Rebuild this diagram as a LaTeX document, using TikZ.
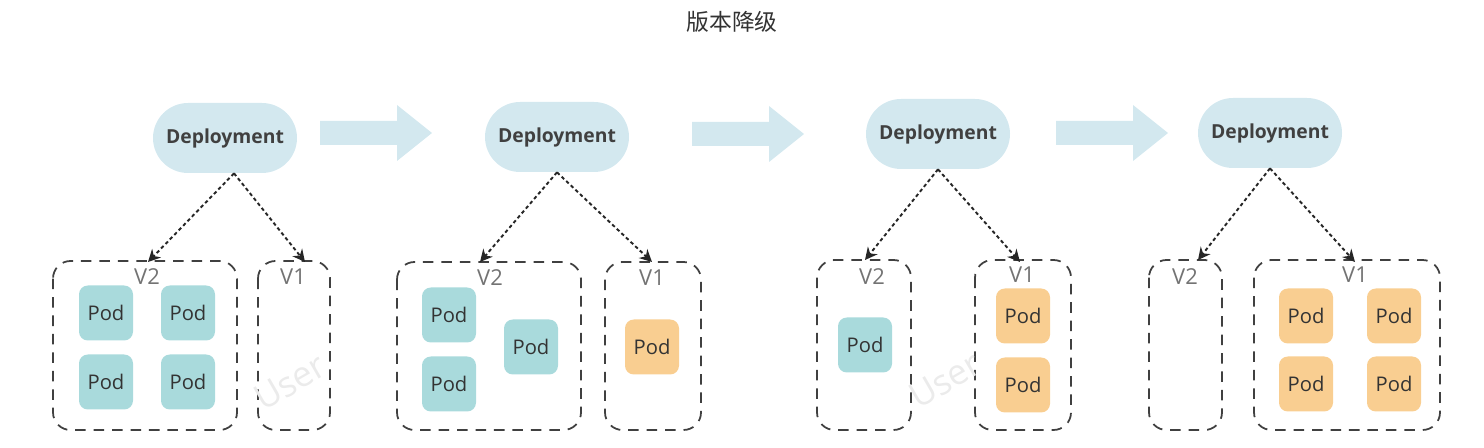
\documentclass[tikz,border=0pt]{standalone}
\usepackage{fontspec}
\setmainfont{Open Sans}
\newfontfamily\cjk{Noto Sans CJK SC}
\usetikzlibrary{arrows.meta}
\definecolor{deplo}{HTML}{D3E8EF}
\definecolor{podv2}{HTML}{A9DADC}
\definecolor{podv1}{HTML}{F9CE91}
\begin{document}
\begin{tikzpicture}[x=0.02cm,y=-0.02cm,
  dep/.style={draw=none,fill=deplo,rounded corners=35*0.02cm,minimum width=144*0.02cm,minimum height=70*0.02cm,font=\bfseries\fontsize{11}{13}\selectfont,text=black!75},
  pod/.style={draw=none,rounded corners=5pt,minimum width=54*0.02cm,minimum height=55*0.02cm,font=\fontsize{11.5}{13}\selectfont,text=black!80},
  p2/.style={pod,fill=podv2},
  p1/.style={pod,fill=podv1},
  grp/.style={draw=black!75,line width=1pt,dash pattern=on 6pt off 4.5pt,rounded corners=10pt},
  ver/.style={font=\fontsize{12.5}{14}\selectfont,text=black!55},
  link/.style={black!85,line width=1.1pt,dash pattern=on 2pt off 1.6pt,-{Stealth[length=7pt,width=7pt]}},
  bigstep/.style={fill=deplo,draw=none},
  wm/.style={font=\fontsize{20}{22}\selectfont,text=black!8,rotate=30}]
\useasboundingbox (0,0) rectangle (1484,448);
\node[font=\cjk\fontsize{13}{15}\selectfont,text=black!80] (title) at (732,22) {版本降级};
% helper for the big arrows
\newcommand{\stepar}[2]{\fill[bigstep] (#1,#2-12) -- (#1+77,#2-12) -- (#1+77,#2-28) -- (#1+112,#2) -- (#1+77,#2+28) -- (#1+77,#2+12) -- (#1,#2+12) -- cycle;}
\stepar{320}{133}
\stepar{692}{134}
\stepar{1056}{133}
% stage 1
\node[dep] (d1) at (225,138) {Deployment};
\draw[grp] (53,261) rectangle (237,430);
\draw[grp] (258,261) rectangle (330,430);
\coordinate (a1) at (148,262); \coordinate (b1) at (305,262);
\node[ver] (v21) at (147,277) {V2};
\node[ver] (v11) at (293,277) {V1};
\node[p2] (p11) at (106,313) {Pod};
\node[p2] (p12) at (188,313) {Pod};
\node[p2] (p13) at (106,382) {Pod};
\node[p2] (p14) at (188,382) {Pod};
\node[wm] (w1) at (290,382) {User};
\draw[link] (d1.south) ++(9,0) coordinate (s1) (s1) -- (a1);
\draw[link] (s1) -- (b1);
% stage 2
\node[dep] (d2) at (557,137) {Deployment};
\draw[grp] (397,262) rectangle (581,430);
\draw[grp] (605,262) rectangle (701,430);
\coordinate (a2) at (480,262); \coordinate (b2) at (652,262);
\node[ver] (v22) at (490,278) {V2};
\node[ver] (v12) at (652,278) {V1};
\node[p2] (p21) at (449,315) {Pod};
\node[p2] (p22) at (449,384) {Pod};
\node[p2] (p23) at (531,347) {Pod};
\node[p1] (p24) at (652,347) {Pod};
\draw[link] (d2.south) -- (a2);
\draw[link] (d2.south) -- (b2);
% stage 3
\node[dep] (d3) at (938,134) {Deployment};
\draw[grp] (817,260) rectangle (911,430);
\draw[grp] (975,260) rectangle (1071,430);
\coordinate (a3) at (865,260); \coordinate (b3) at (1020,262);
\node[ver] (v23) at (872,277) {V2};
\node[ver] (v13) at (1022,275) {V1};
\node[p2] (p31) at (865,345) {Pod};
\node[p1] (p32) at (1023,316) {Pod};
\node[p1] (p33) at (1023,385) {Pod};
\node[wm] (w3) at (945,380) {User};
\draw[link] (d3.south) -- (a3);
\draw[link] (d3.south) -- (b3);
% stage 4
\node[dep] (d4) at (1270,133) {Deployment};
\draw[grp] (1149,260) rectangle (1222,430);
\draw[grp] (1254,260) rectangle (1440,430);
\coordinate (a4) at (1198,260); \coordinate (b4) at (1355,262);
\node[ver] (v24) at (1185,277) {V2};
\node[ver] (v14) at (1355,275) {V1};
\node[p1] (p41) at (1306,316) {Pod};
\node[p1] (p42) at (1394,316) {Pod};
\node[p1] (p43) at (1306,384) {Pod};
\node[p1] (p44) at (1394,384) {Pod};
\draw[link] (d4.south) -- (a4);
\draw[link] (d4.south) -- (b4);
\end{tikzpicture}
\end{document}
